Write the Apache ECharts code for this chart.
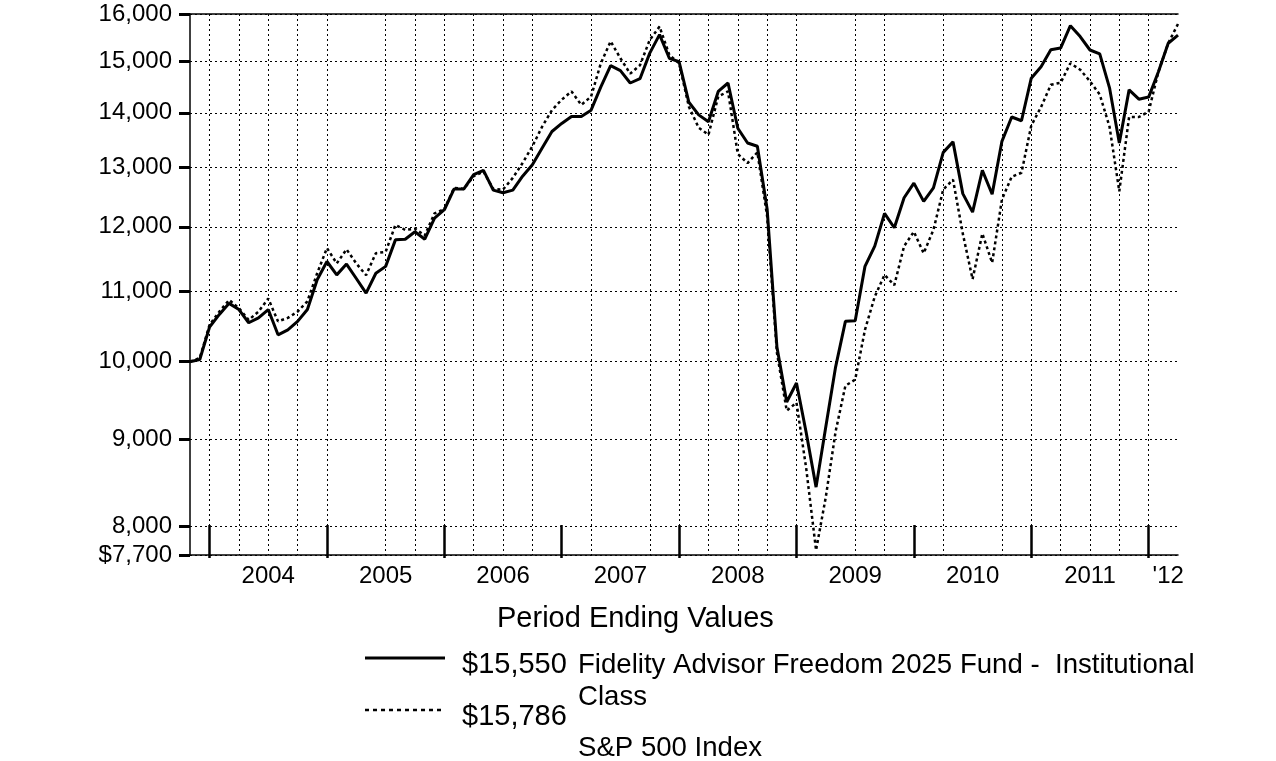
<!DOCTYPE html>
<html>
<head>
<meta charset="utf-8">
<script src="https://cdn.jsdelivr.net/npm/echarts@6/dist/echarts.min.js"></script>
<style>
  html, body { margin: 0; padding: 0; background: #fff; }
  #chart { width: 1276px; height: 761px; }
</style>
</head>
<body>
<div id="chart"></div>
<script>
// month-end categories, Oct 2003 .. Mar 2012
const months = [];
for (let y = 2003, m = 10; y < 2012 || (y === 2012 && m <= 3); m++) {
  if (m > 12) { m = 1; y++; }
  if (y === 2012 && m > 3) break;
  months.push(y + '-' + String(m).padStart(2, '0'));
}

const fundValues = [
  10000, 10030, 10480, 10660, 10820, 10730, 10540, 10610, 10730, 10370,
  10440, 10560, 10730, 11170, 11450, 11245, 11410, 11190, 10970, 11270,
  11375, 11790, 11800, 11920, 11800, 12140, 12280, 12630, 12630, 12876,
  12950, 12610, 12565, 12610, 12850, 13050, 13350, 13650, 13800, 13930,
  13930, 14050, 14500, 14920, 14820, 14575, 14660, 15175, 15560, 15070,
  15000, 14200, 13960, 13830, 14410, 14575, 13710, 13440, 13380, 12290,
  10200, 9470, 9715, 9080, 8440, 9160, 9930, 10560, 10570, 11375,
  11690, 12220, 11985, 12480, 12730, 12420, 12650, 13270, 13460, 12550,
  12240, 12950, 12540, 13470, 13920, 13850, 14670, 14900, 15245, 15280,
  15750, 15520, 15240, 15160, 14480, 13440, 14440, 14260, 14300, 14800,
  15380, 15550
];

const spValues = [
  10000, 10050, 10510, 10700, 10870, 10750, 10580, 10700, 10890, 10560,
  10610, 10700, 10850, 11270, 11660, 11420, 11640, 11420, 11240, 11580,
  11600, 12030, 11950, 11970, 11860, 12220, 12290, 12650, 12630, 12850,
  12930, 12630, 12620, 12820, 13080, 13380, 13740, 14050, 14250, 14410,
  14150, 14310, 14970, 15420, 15070, 14760, 14930, 15450, 15730, 15140,
  14970, 14115, 13720, 13590, 14310, 14410, 13240, 13080, 13270, 12170,
  10120, 9360, 9460, 8650, 7750, 8330, 9100, 9680, 9760, 10440,
  10920, 11245, 11090, 11690, 11920, 11580, 11950, 12620, 12790, 11890,
  11180, 11890, 11430, 12450, 12840, 12910, 13760, 14110, 14540, 14580,
  14970, 14840, 14610, 14350, 13740, 12590, 13920, 13920, 14020, 14800,
  15380, 15786
];

const yTicks = [7700, 8000, 9000, 10000, 11000, 12000, 13000, 14000, 15000, 16000];

const yearLabels = {
  '2004-06': '2004', '2005-06': '2005', '2006-06': '2006', '2007-06': '2007',
  '2008-06': '2008', '2009-06': '2009', '2010-06': '2010', '2011-06': '2011',
  '2012-02': "'12"
};

const yearTickMonths = ['2003-12', '2004-12', '2005-12', '2006-12', '2007-12',
  '2008-12', '2009-12', '2010-12', '2011-12'];

const gridMonths = ['2003-12', '2004-03', '2004-06', '2004-09', '2004-12',
  '2005-06', '2005-09', '2005-12', '2006-03', '2006-06', '2006-09',
  '2007-03', '2007-09', '2007-12', '2008-03', '2008-06', '2008-09', '2008-12',
  '2009-06', '2009-09', '2010-03', '2010-09', '2010-12', '2011-03', '2011-06',
  '2011-09', '2011-12'];

const fundName = 'Fidelity Advisor Freedom 2025 Fund -  Institutional';
const fundNameTail = 'Class';
const indexName = 'S&P 500 Index';

const FONT = '"Liberation Sans", Arial, sans-serif';
const money = v => '$' + v.toLocaleString('en-US');

const chart = echarts.init(document.getElementById('chart'));

function label(text, x, y, size) {
  return {
    type: 'text', x: x, y: y,
    style: { text: text, font: size + 'px ' + FONT, fill: '#000', verticalAlign: 'middle' }
  };
}

chart.setOption({
  animation: false,
  backgroundColor: '#fff',
  textStyle: { fontFamily: FONT, color: '#000' },
  grid: { left: 190, right: 98, top: 14, bottom: 206, containLabel: false, outerBoundsMode: 'none' },
  xAxis: [{
    type: 'category',
    data: months,
    boundaryGap: false,
    axisLine: { lineStyle: { color: '#000', width: 1.5 } },
    axisTick: {
      inside: true,
      length: 30,
      interval: (i, v) => yearTickMonths.includes(v),
      lineStyle: { color: '#000', width: 2.5 }
    },
    axisLabel: {
      interval: (i, v) => v in yearLabels,
      formatter: v => yearLabels[v] || '',
      fontSize: 24,
      color: '#000',
      margin: 9,
      fontFamily: FONT
    },
    splitLine: {
      show: true,
      interval: (i, v) => gridMonths.includes(v),
      lineStyle: { color: '#000', width: 1, type: [2, 3] }
    }
  }, {
    // top border
    type: 'category',
    data: months,
    position: 'top',
    boundaryGap: false,
    axisLine: { lineStyle: { color: '#000', width: 1.5 } },
    axisTick: { show: false },
    axisLabel: { show: false },
    splitLine: { show: false }
  }, {
    // short stub of the year ticks below the axis
    type: 'category',
    data: months,
    position: 'bottom',
    boundaryGap: false,
    axisLine: { show: false },
    axisTick: {
      length: 3,
      interval: (i, v) => yearTickMonths.includes(v),
      lineStyle: { color: '#000', width: 2.5 }
    },
    axisLabel: { show: false },
    splitLine: { show: false }
  }],
  yAxis: {
    type: 'log',
    logBase: 10,
    min: 7700,
    max: 16000,
    axisLine: { show: true, lineStyle: { color: '#000', width: 1.5 } },
    axisTick: {
      show: true,
      length: 11,
      customValues: yTicks,
      lineStyle: { color: '#000', width: 3 }
    },
    axisLabel: {
      customValues: yTicks,
      formatter: v => {
        const r = Math.round(v);
        return r === 7700 ? money(r) : r.toLocaleString('en-US');
      },
      fontSize: 24,
      color: '#000',
      margin: 18,
      fontFamily: FONT
    },
    splitLine: {
      show: true,
      lineStyle: { color: '#000', width: 1, type: [2, 3] }
    }
  },
  series: [{
    name: fundName,
    type: 'line',
    data: fundValues,
    symbol: 'none',
    lineStyle: { color: '#000', width: 3 },
    z: 4
  }, {
    name: indexName,
    type: 'line',
    data: spValues,
    symbol: 'none',
    lineStyle: { color: '#000', width: 2.5, type: [3, 3] },
    z: 3
  }],
  graphic: [
    label('Period Ending Values', 497, 619, 29),
    { type: 'line', shape: { x1: 365, y1: 658, x2: 445, y2: 658 }, style: { stroke: '#000', lineWidth: 3 } },
    { type: 'line', shape: { x1: 365, y1: 710, x2: 443, y2: 710 }, style: { stroke: '#000', lineWidth: 2.5, lineDash: [4, 4] } },
    label(money(fundValues[fundValues.length - 1]), 462, 665, 29),
    label(money(spValues[spValues.length - 1]), 462, 717, 29),
    label(fundName, 578, 665, 27.6),
    label(fundNameTail, 578, 697, 27.6),
    label(indexName, 578, 748, 27.6)
  ]
});
</script>
</body>
</html>
